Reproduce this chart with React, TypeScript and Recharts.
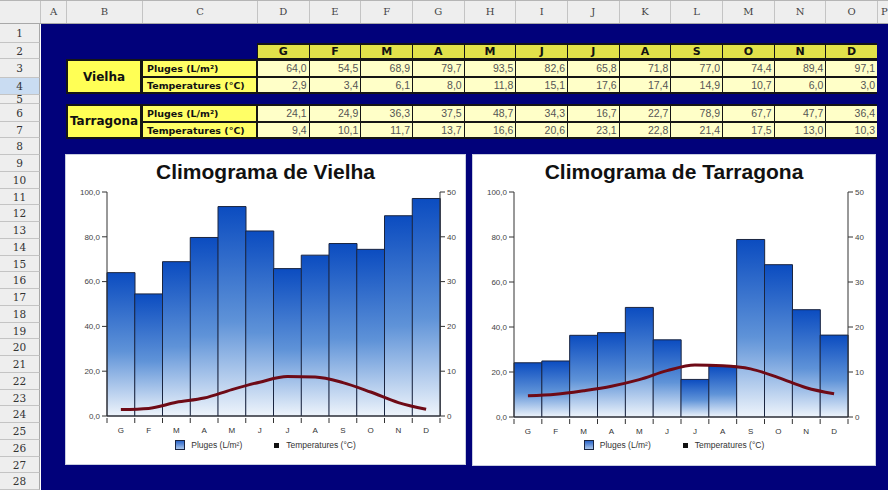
import React from 'react';
import { ComposedChart, Bar, Line, XAxis, YAxis } from 'recharts';

const months = ['G', 'F', 'M', 'A', 'M', 'J', 'J', 'A', 'S', 'O', 'N', 'D'];
const vielhaRain = [64.0, 54.5, 68.9, 79.7, 93.5, 82.6, 65.8, 71.8, 77.0, 74.4, 89.4, 97.1];
const vielhaTemp = [2.9, 3.4, 6.1, 8.0, 11.8, 15.1, 17.6, 17.4, 14.9, 10.7, 6.0, 3.0];
const tarragonaRain = [24.1, 24.9, 36.3, 37.5, 48.7, 34.3, 16.7, 22.7, 78.9, 67.7, 47.7, 36.4];
const tarragonaTemp = [9.4, 10.1, 11.7, 13.7, 16.6, 20.6, 23.1, 22.8, 21.4, 17.5, 13.0, 10.3];
const rainTicks = [0, 20, 40, 60, 80, 100];
const tempTicks = [0, 10, 20, 30, 40, 50];
const columnLetters = ['A', 'B', 'C', 'D', 'E', 'F', 'G', 'H', 'I', 'J', 'K', 'L', 'M', 'N', 'O', 'P'];
const rainLabel = 'Pluges (L/m²)';
const tempLabel = 'Temperatures (°C)';
const cities = ['Vielha', 'Tarragona'];

const FONT = '"Liberation Sans", Arial, sans-serif';
const GOTHIC = '"DejaVu Sans", sans-serif';

const colEdges: number[] = [40, 66, 142, 257];
for (let i = 0; i < 12; i++) colEdges.push(257 + 51.67 * (i + 1));
colEdges.push(888);
const rowEdges: number[] = [24, 43, 59, 77.5, 94.5, 103.5, 121.5, 138, 155];
for (let i = 0; i < 20; i++) rowEdges.push(155 + 16.75 * (i + 1));

const fmt = (v: number) => v.toFixed(1).replace('.', ',');

const buildData = (rain: number[], temp: number[]) =>
  months.map((m, i) => ({ month: m, rain: rain[i], temp: temp[i] }));

const MonthTick = (props: any) => {
  const { x, y, payload, index } = props;
  const half = payload && payload.offset ? payload.offset : 13.9;
  return (
    <g>
      <line x1={x - half} x2={x - half} y1={y} y2={y + 5} stroke="#333" strokeWidth={1} />
      {index === months.length - 1 && (
        <line x1={x + half} x2={x + half} y1={y} y2={y + 5} stroke="#333" strokeWidth={1} />
      )}
      <text x={x} y={y + 15} textAnchor="middle" fontSize={8} fill="#333" fontFamily={FONT}>
        {payload.value}
      </text>
    </g>
  );
};

const Climogram = ({ id, title, rain, temp, left, top, width, height, rightW }: any) => {
  const data = buildData(rain, temp);
  return (
    <div style={{ position: 'absolute', left, top, width, height, background: '#fff', border: '1px solid #c8cde0', boxSizing: 'border-box' }}>
      <div style={{ position: 'absolute', left: 0, top: 5, width: '100%', textAlign: 'center', fontFamily: FONT, fontWeight: 'bold', fontSize: 21, color: '#111' }}>
        {title}
      </div>
      <div style={{ position: 'absolute', left: 0, top: 0 }}>
        <ComposedChart width={width - 2} height={height - 2} data={data} barCategoryGap={0} barGap={0}
          margin={{ top: 37, right: 0, left: 0, bottom: 28 }}>
          <defs>
            <linearGradient id={id} x1="0" y1="0" x2="0" y2="1">
              <stop offset="0%" stopColor="#0b4cc0" />
              <stop offset="55%" stopColor="#5f93d8" />
              <stop offset="100%" stopColor="#eef4fb" />
            </linearGradient>
          </defs>
          <XAxis dataKey="month" tickSize={0} tickLine={false} axisLine={{ stroke: '#333' }} height={20} tick={<MonthTick />} interval={0} />
          <YAxis yAxisId="left" domain={[0, 100]} ticks={rainTicks} width={41} tickSize={5} tickMargin={2}
            tickFormatter={fmt} axisLine={{ stroke: '#333' }} tickLine={{ stroke: '#333' }}
            tick={{ fontSize: 8, fill: '#444', fontFamily: FONT }} interval={0} />
          <YAxis yAxisId="right" orientation="right" domain={[0, 50]} ticks={tempTicks} width={rightW} tickSize={5} tickMargin={2}
            axisLine={{ stroke: '#333' }} tickLine={{ stroke: '#333' }}
            tick={{ fontSize: 8, fill: '#444', fontFamily: FONT }} interval={0} allowDataOverflow />
          <Bar yAxisId="left" dataKey="rain" fill={`url(#${id})`} stroke="#1a2540" strokeWidth={1} isAnimationActive={false} />
          <Line yAxisId="left" dataKey="temp" type="monotone" stroke="#6e0a16" strokeWidth={3} dot={false} isAnimationActive={false} />
        </ComposedChart>
      </div>
      <div style={{ position: 'absolute', left: 0, top: 285, width: '100%', display: 'flex', justifyContent: 'center', alignItems: 'center', fontFamily: FONT, fontSize: 8.5, color: '#333' }}>
        <span style={{ display: 'inline-block', width: 8, height: 8, border: '1px solid #1a2540', background: 'linear-gradient(#2a64c8, #a9c6ec)', marginRight: 6 }} />
        <span style={{ marginRight: 32 }}>{rainLabel}</span>
        <span style={{ display: 'inline-block', width: 5, height: 5, background: '#111', marginRight: 7 }} />
        <span>{tempLabel}</span>
      </div>
    </div>
  );
};

const CityBlock = ({ name, rain, temp, top }: any) => {
  const rowH = [top, top + 18, top + 35];
  const rows = [
    { label: rainLabel, values: rain },
    { label: tempLabel, values: temp },
  ];
  return (
    <>
      <div style={{ position: 'absolute', left: 66, top, width: 877 - 66, height: 35, background: '#151515' }} />
      <div style={{ position: 'absolute', left: 68, top: top + 2, width: 72, height: 31, background: '#ffff55', display: 'flex', alignItems: 'center', justifyContent: 'center', fontFamily: GOTHIC, fontWeight: 'bold', fontSize: 12, color: '#111' }}>
        {name}
      </div>
      {rows.map((r, ri) => (
        <React.Fragment key={ri}>
          <div style={{ position: 'absolute', left: 143, top: rowH[ri] + (ri === 0 ? 2 : 1), width: 113, height: rowH[ri + 1] - rowH[ri] - 3, background: '#ffff66', fontFamily: GOTHIC, fontWeight: 'bold', fontSize: 9.5, color: '#111', lineHeight: '15px', paddingLeft: 4, boxSizing: 'border-box', whiteSpace: 'nowrap', overflow: 'hidden' }}>
            {r.label}
          </div>
          {r.values.map((v: number, i: number) => (
            <div key={i} style={{ position: 'absolute', left: colEdges[3 + i] + 1, top: rowH[ri] + (ri === 0 ? 2 : 1), width: colEdges[4 + i] - colEdges[3 + i] - 1, height: rowH[ri + 1] - rowH[ri] - 3, background: '#ffffc8', fontFamily: FONT, fontSize: 10.5, color: '#555', textAlign: 'right', paddingRight: 2, boxSizing: 'border-box', lineHeight: '15px' }}>
              {fmt(v)}
            </div>
          ))}
        </React.Fragment>
      ))}
    </>
  );
};

export default function App() {
  return (
    <div style={{ position: 'fixed', left: 0, top: 0, width: 888, height: 490, overflow: 'hidden', background: '#ffffff' }}>
      <div style={{ position: 'absolute', left: 0, top: 0, width: 888, height: 24, background: '#eeeeee', borderTop: '1px solid #b5b5b5', borderBottom: '1px solid #a8a8a8', boxSizing: 'border-box' }} />
      {columnLetters.map((c, i) => (
        <div key={c} style={{ position: 'absolute', left: colEdges[i], top: 1, width: colEdges[i + 1] - colEdges[i], height: 22, borderLeft: '1px solid #c4c4c4', boxSizing: 'border-box', textAlign: i === columnLetters.length - 1 ? 'left' : 'center', paddingLeft: i === columnLetters.length - 1 ? 3 : 0, lineHeight: '22px', fontFamily: '"DejaVu Serif", serif', fontSize: 10, color: '#444', overflow: 'hidden' }}>
          {c}
        </div>
      ))}
      <div style={{ position: 'absolute', left: 0, top: 24, width: 40, height: 466, background: '#eeeeee', borderRight: '1px solid #a8a8a8', boxSizing: 'border-box' }} />
      {rowEdges.slice(0, 28).map((y, i) => (
        <div key={i} style={{ position: 'absolute', left: 0, top: y, width: 40, height: rowEdges[i + 1] - y, borderBottom: '1px solid #c4c4c4', boxSizing: 'border-box', background: i === 3 ? '#c9dcf2' : '#eeeeee', textAlign: 'center', fontFamily: '"DejaVu Serif", serif', fontSize: 10.5, color: '#333', lineHeight: `${rowEdges[i + 1] - y}px`, borderRight: '1px solid #a8a8a8' }}>
          {i + 1}
        </div>
      ))}
      <div style={{ position: 'absolute', left: 41, top: 24, width: 847, height: 466, background: '#01017a' }} />
      <div style={{ position: 'absolute', left: 257, top: 43, width: 877 - 257, height: 17, background: '#151515' }} />
      {months.map((m, i) => (
        <div key={i} style={{ position: 'absolute', left: colEdges[3 + i] + 1, top: 45, width: colEdges[4 + i] - colEdges[3 + i] - 1, height: 13, background: '#e2e24a', textAlign: 'center', fontFamily: GOTHIC, fontWeight: 'bold', fontSize: 11, color: '#111', lineHeight: '13px' }}>
          {m}
        </div>
      ))}
      <CityBlock name={cities[0]} rain={vielhaRain} temp={vielhaTemp} top={59} />
      <CityBlock name={cities[1]} rain={tarragonaRain} temp={tarragonaTemp} top={103.5} />
      <Climogram id="gradV" title={`Climograma de ${cities[0]}`} rain={vielhaRain} temp={vielhaTemp} left={65} top={154} width={401} height={311} rightW={25} />
      <Climogram id="gradT" title={`Climograma de ${cities[1]}`} rain={tarragonaRain} temp={tarragonaTemp} left={472} top={154} width={404} height={312} rightW={27} />
    </div>
  );
}
